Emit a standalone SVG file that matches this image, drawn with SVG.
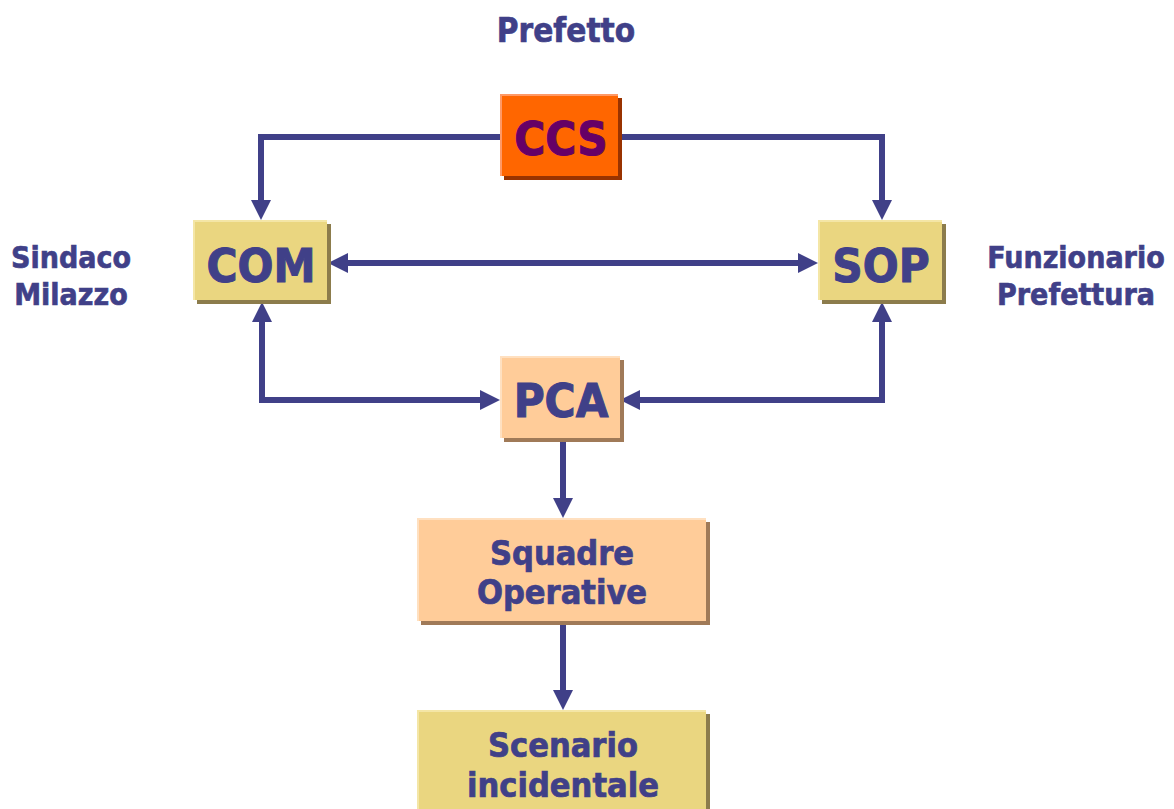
<svg xmlns="http://www.w3.org/2000/svg" width="1174" height="809" viewBox="0 0 1174 809">
<defs>
<style>
text{font-family:"DejaVu Sans Condensed","DejaVu Sans",sans-serif;font-weight:bold;fill:#404088;stroke:#404088;stroke-width:0.6;text-anchor:middle}
.lbl{font-size:30px}
.big{font-size:47px;stroke-width:1}
.mid{font-size:34px;stroke-width:0.7}
.conn{fill:none;stroke:#404088;stroke-width:6}
.y .hl{fill:#F4E6A6}.y .m{fill:#EAD680}.y .sh{fill:#8C7C4C}
.p .hl{fill:#FFE0C0}.p .m{fill:#FFCC99}.p .sh{fill:#A07A58}
.o .hl{fill:#FF9966}.o .m{fill:#FF6600}.o .sh{fill:#993300}
</style>
<marker id="ah" markerUnits="userSpaceOnUse" markerWidth="20" markerHeight="20" refX="0" refY="10" orient="auto-start-reverse" viewBox="0 0 20 20">
<path d="M0,0 L20,10 L0,20 z" fill="#404088"/>
</marker>
</defs>
<rect width="1174" height="809" fill="#fff"/>
<g id="labels">
<text class="lbl" x="566" y="42" style="font-size:33px">Prefetto</text>
<text class="lbl" x="71" y="268">Sindaco</text>
<text class="lbl" x="71" y="305">Milazzo</text>
<text class="lbl" x="1076" y="268">Funzionario</text>
<text class="lbl" x="1076" y="305">Prefettura</text>
</g>
<g id="connectors">
<path class="conn" d="M500,137 H261 V200" marker-end="url(#ah)"/>
<path class="conn" d="M620,137 H882 V200" marker-end="url(#ah)"/>
<path class="conn" d="M348,263 H798" marker-start="url(#ah)" marker-end="url(#ah)"/>
<path class="conn" d="M262,322 V400 H480" marker-start="url(#ah)" marker-end="url(#ah)"/>
<path class="conn" d="M882,322 V400 H640" marker-start="url(#ah)" marker-end="url(#ah)"/>
<path class="conn" d="M563,441 V498" marker-end="url(#ah)"/>
<path class="conn" d="M563,625 V690" marker-end="url(#ah)"/>
</g>
<g id="ccs" class="o">
<rect class="sh" x="504" y="98" width="118" height="82"/>
<rect class="hl" x="500" y="94" width="118" height="82"/>
<rect class="m" x="502" y="96" width="116" height="80"/>
<text class="big" x="561" y="155" style="fill:#660066;stroke:#660066">CCS</text>
</g>
<g id="com" class="y">
<rect class="sh" x="197" y="224" width="134" height="80"/>
<rect class="hl" x="193" y="220" width="134" height="80"/>
<rect class="m" x="195" y="222" width="132" height="78"/>
<text class="big" x="261" y="282">COM</text>
</g>
<g id="sop" class="y">
<rect class="sh" x="822" y="224" width="124" height="80"/>
<rect class="hl" x="818" y="220" width="124" height="80"/>
<rect class="m" x="820" y="222" width="122" height="78"/>
<text class="big" x="881" y="282">SOP</text>
</g>
<g id="pca" class="p">
<rect class="sh" x="504" y="360" width="120" height="82"/>
<rect class="hl" x="500" y="356" width="120" height="82"/>
<rect class="m" x="502" y="358" width="118" height="80"/>
<text class="big" x="561" y="417">PCA</text>
</g>
<g id="squadre" class="p">
<rect class="sh" x="421" y="522" width="289" height="103"/>
<rect class="hl" x="417" y="518" width="289" height="103"/>
<rect class="m" x="419" y="520" width="287" height="101"/>
<text class="mid" x="562" y="565">Squadre</text>
<text class="mid" x="562" y="604">Operative</text>
</g>
<g id="scenario" class="y">
<rect class="sh" x="421" y="714" width="289" height="110"/>
<rect class="hl" x="417" y="710" width="289" height="110"/>
<rect class="m" x="419" y="712" width="287" height="108"/>
<text class="mid" x="563" y="757">Scenario</text>
<text class="mid" x="563" y="797">incidentale</text>
</g>
</svg>
